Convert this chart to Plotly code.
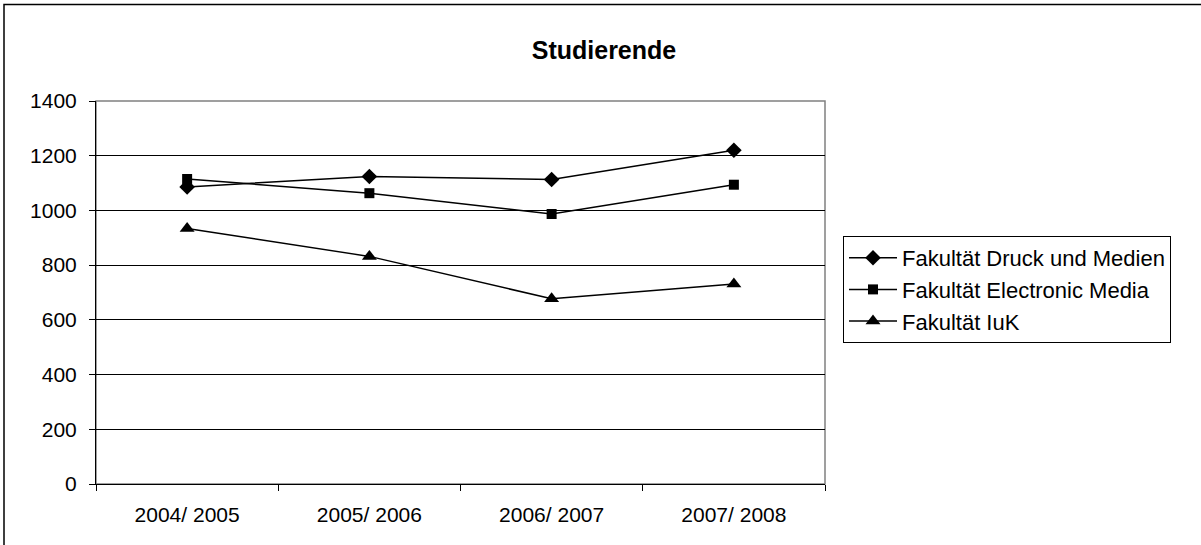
import plotly.graph_objects as go

categories = ["2004/ 2005", "2005/ 2006", "2006/ 2007", "2007/ 2008"]
druck = [1086, 1124, 1113, 1220]
electronic = [1115, 1063, 987, 1094]
iuk = [934, 832, 677, 731]
series_names = ["Fakultät Druck und Medien", "Fakultät Electronic Media", "Fakultät IuK"]
y_ticks = [0, 200, 400, 600, 800, 1000, 1200, 1400]

FONT = "Liberation Sans, Arial, sans-serif"

fig = go.Figure()
for name, vals, sym, sz in [
    (series_names[0], druck, "diamond", 12),
    (series_names[1], electronic, "square", 10),
    (series_names[2], iuk, "triangle-up", 13),
]:
    fig.add_trace(go.Scatter(
        x=categories, y=vals, name=name, mode="lines+markers",
        line=dict(color="black", width=1.5),
        marker=dict(symbol=sym, size=sz, color="black"),
    ))

L, R, T, B = 96, 376, 101, 61
W, H = 1201, 545
plot_w = W - L - R
plot_h = H - T - B

fig.update_layout(
    width=W, height=H,
    margin=dict(l=L, r=R, t=T, b=B),
    paper_bgcolor="white", plot_bgcolor="white",
    font=dict(family=FONT, color="black"),
    title=dict(text="<b>Studierende</b>", x=604 / W, xanchor="center",
               y=1 - 50 / H, yanchor="middle",
               font=dict(size=25, family=FONT, color="black")),
    showlegend=True,
    legend=dict(
        x=(843 - L) / plot_w, xanchor="left",
        y=(H - B - 289.5) / plot_h, yanchor="middle",
        bordercolor="black", borderwidth=1, bgcolor="white",
        font=dict(size=22, family=FONT, color="black"),
        tracegroupgap=0, itemwidth=48,
    ),
    xaxis=dict(
        type="category", range=[-0.5, 3.5],
        tickson="boundaries", ticks="outside", ticklen=6, tickcolor="black",
        showline=True, linecolor="black", linewidth=1,
        showgrid=False, zeroline=False, ticklabelstandoff=12,
        tickfont=dict(size=21, family=FONT, color="black"),
    ),
    yaxis=dict(
        range=[0, 1400], tickvals=y_ticks,
        ticks="outside", ticklen=6, tickcolor="black",
        showline=True, linecolor="black", linewidth=1,
        showgrid=True, gridcolor="black", gridwidth=1,
        zeroline=False, ticklabelstandoff=8,
        tickfont=dict(size=21, family=FONT, color="black"),
    ),
    shapes=[
        dict(type="rect", xref="paper", yref="paper",
             x0=0, x1=1, y0=0, y1=1,
             line=dict(color="#808080", width=1.5), layer="below"),
        dict(type="rect", xref="paper", yref="paper",
             x0=(4 - L) / plot_w, x1=(W + 20 - L) / plot_w,
             y0=-(B + 20) / plot_h, y1=(H - B - 4.5) / plot_h,
             line=dict(color="black", width=1.5), layer="below"),
    ],
)

fig.write_html("out.html", config={"displayModeBar": False},
               post_script="document.body.style.margin='0';")
